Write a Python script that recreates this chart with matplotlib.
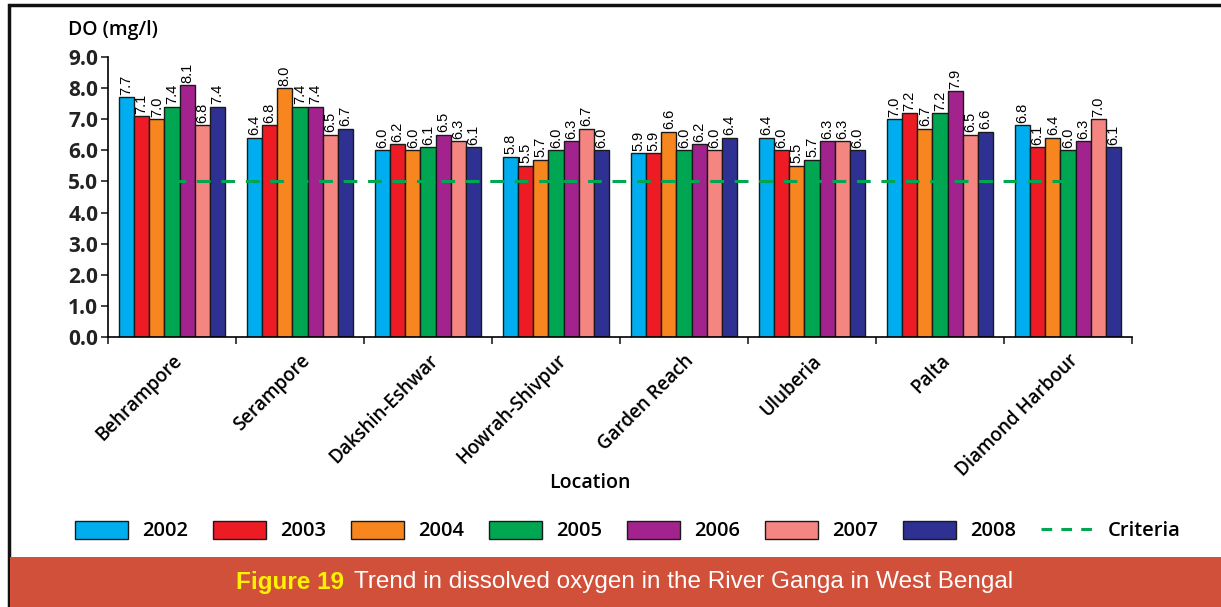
import numpy as np
import matplotlib.pyplot as plt
from matplotlib.patches import Rectangle
from matplotlib.lines import Line2D

# Data
locations = ['Behrampore', 'Serampore', 'Dakshin-Eshwar', 'Howrah-Shivpur',
             'Garden Reach', 'Uluberia', 'Palta', 'Diamond Harbour']
years = ['2002', '2003', '2004', '2005', '2006', '2007', '2008']
do_2002 = [7.7, 6.4, 6.0, 5.8, 5.9, 6.4, 7.0, 6.8]
do_2003 = [7.1, 6.8, 6.2, 5.5, 5.9, 6.0, 7.2, 6.1]
do_2004 = [7.0, 8.0, 6.0, 5.7, 6.6, 5.5, 6.7, 6.4]
do_2005 = [7.4, 7.4, 6.1, 6.0, 6.0, 5.7, 7.2, 6.0]
do_2006 = [8.1, 7.4, 6.5, 6.3, 6.2, 6.3, 7.9, 6.3]
do_2007 = [6.8, 6.5, 6.3, 6.7, 6.0, 6.3, 6.5, 7.0]
do_2008 = [7.4, 6.7, 6.1, 6.0, 6.4, 6.0, 6.6, 6.1]
criteria = [5.0] * len(locations)

series = [do_2002, do_2003, do_2004, do_2005, do_2006, do_2007, do_2008]
colors = ['#00AEEF', '#ED1C24', '#F7861F', '#00A651', '#A3238E', '#F48580', '#2E3192']

LABEL_FONT = ['Open Sans', 'DejaVu Sans']
VALUE_FONT = ['Liberation Sans', 'DejaVu Sans']
CAPTION_FONT = ['Liberation Sans Narrow', 'Liberation Sans', 'DejaVu Sans']

fig = plt.figure(figsize=(12.21, 6.07), dpi=100)
ax = fig.add_axes([108 / 1221, 1 - 337 / 607, 1024 / 1221, 280 / 607])

x = np.arange(len(locations))
w = 0.828 / len(years)
for i, (vals, col) in enumerate(zip(series, colors)):
    pos = x + (i - 3) * w
    ax.bar(pos, vals, width=w, color=col, edgecolor='#1a1a1a',
           linewidth=1.0, label=years[i], zorder=2)
    for xp, v in zip(pos, vals):
        ax.text(xp, v + 0.08, f'{v:.1f}', rotation=90, ha='center', va='bottom',
                fontsize=10.5, family=VALUE_FONT, zorder=3)

ax.plot(x, criteria, color='#00A651', linestyle=(0, (4.5, 3.5)), linewidth=2.2,
        label='Criteria', zorder=4)

ax.set_xlim(-0.5, len(locations) - 0.5)
ax.set_ylim(0, 9)
ax.set_yticks(np.arange(0, 9.1, 1.0))
ax.set_yticklabels([f'{v:.1f}' for v in np.arange(0, 9.1, 1.0)],
                   fontsize=15, fontweight='bold', family=LABEL_FONT)
ax.set_xticks(np.arange(-0.5, len(locations), 1.0))
ax.set_xticklabels([])
ax.tick_params(axis='both', direction='out', length=5, width=1.2, colors='#222222')
ax.tick_params(axis='y', pad=2)
for xp, name in zip(x, locations):
    ax.text(xp, -0.45, name, rotation=45, ha='right', va='top',
            rotation_mode='anchor', fontsize=13.5, fontweight='semibold',
            family=LABEL_FONT)
for s in ['top', 'right']:
    ax.spines[s].set_visible(False)
for s in ['left', 'bottom']:
    ax.spines[s].set_linewidth(1.2)

fig.text(68 / 1221, 1 - 30 / 607, 'DO (mg/l)', fontsize=14, fontweight='semibold',
         family=LABEL_FONT, va='center', ha='left')
fig.text(590 / 1221, 1 - 483 / 607, 'Location', fontsize=14, fontweight='semibold',
         family=LABEL_FONT, va='center', ha='center')

# legend
handles = [Rectangle((0, 0), 1, 1, facecolor=c, edgecolor='#1a1a1a', linewidth=1.0)
           for c in colors]
handles.append(Line2D([0], [0], color='#00A651', linestyle=(0, (3.5, 3.0)), linewidth=2.2))
fig.legend(handles, years + ['Criteria'], loc='center', ncol=8,
           bbox_to_anchor=(628 / 1221, 1 - 531 / 607), frameon=False,
           handlelength=2.6, handleheight=1.0, handletextpad=0.7,
           columnspacing=1.27, prop={'family': LABEL_FONT, 'size': 14.5,
                                     'weight': 'semibold'})

# frame and caption banner
fig.add_artist(Rectangle((9 / 1221, 0), 1.1, 1 - 5 / 607, transform=fig.transFigure,
                         fill=False, edgecolor='#111111', linewidth=2.5))
fig.add_artist(Rectangle((10 / 1221, 0), 1.0, 50 / 607, transform=fig.transFigure,
                         facecolor='#D1503A', edgecolor='none'))
t1 = fig.text(0, 25 / 607, 'Figure 19', color='#FFF200', fontsize=17.5,
              fontweight='bold', family=CAPTION_FONT, va='center', ha='left')
t2 = fig.text(0, 25 / 607, 'Trend in dissolved oxygen in the River Ganga in West Bengal',
              color='white', fontsize=17.5, family=CAPTION_FONT, va='center', ha='left')
fig.canvas.draw()
gap = 10
w1 = t1.get_window_extent().width
w2 = t2.get_window_extent().width
start = 625 - (w1 + gap + w2) / 2
t1.set_x(start / 1221)
t2.set_x((start + w1 + gap) / 1221)

fig.savefig('out.png', dpi=100)
